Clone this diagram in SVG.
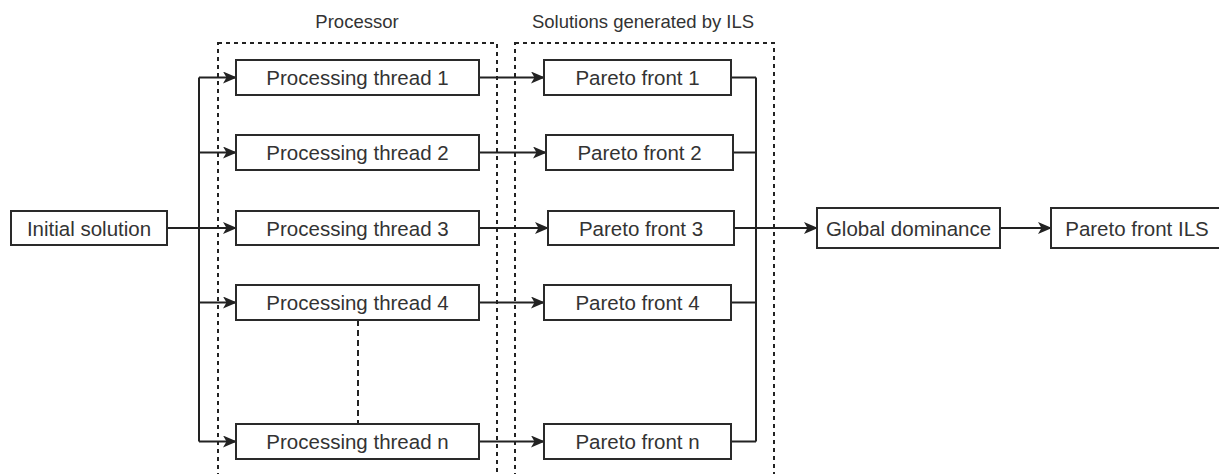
<svg xmlns="http://www.w3.org/2000/svg" width="1219" height="474" viewBox="0 0 1219 474">
<defs>
<style>
.box{fill:#fff;stroke:#2a2a2a;stroke-width:2}
.t{font-family:"Liberation Sans",Arial,sans-serif;font-size:20.5px;fill:#333;text-anchor:middle}
.lbl{font-family:"Liberation Sans",Arial,sans-serif;font-size:18.5px;fill:#333;text-anchor:middle}
.cont{fill:none;stroke:#222;stroke-width:2;stroke-dasharray:4 4}
.ln{fill:none;stroke:#222;stroke-width:2}
.arr{fill:none;stroke:#222;stroke-width:2;marker-end:url(#ah)}
.dash{fill:none;stroke:#222;stroke-width:2;stroke-dasharray:6 4}
</style>
<marker id="ah" viewBox="0 0 14 12" refX="13" refY="6" markerWidth="14" markerHeight="12" markerUnits="userSpaceOnUse" orient="auto">
<path d="M0,0 L14,6 L0,12 L3.5,6 Z" fill="#222"/>
</marker>
</defs>

<g id="containers">
<rect id="processor" class="cont" x="218" y="43" width="279" height="450"/>
<text class="lbl" x="357" y="28">Processor</text>
<rect id="solutions" class="cont" x="515" y="43" width="259" height="450"/>
<text class="lbl" x="643" y="28">Solutions generated by ILS</text>
</g>

<g id="connectors">
<path class="arr" d="M167,228 L236,228"/>
<path class="ln" d="M199,77.5 L199,441.5"/>
<path class="arr" d="M199,77.5 L236,77.5"/>
<path class="arr" d="M199,152.5 L236,152.5"/>
<path class="arr" d="M199,302.5 L236,302.5"/>
<path class="arr" d="M199,441.5 L236,441.5"/>
<path class="arr" d="M479,77.5 L544,77.5"/>
<path class="arr" d="M479,152.5 L546,152.5"/>
<path class="arr" d="M479,228 L548,228"/>
<path class="arr" d="M479,302.5 L544,302.5"/>
<path class="arr" d="M479,441.5 L544,441.5"/>
<path class="ln" d="M731,77.5 L756,77.5 M733,152.5 L756,152.5 M731,302.5 L756,302.5 M731,441.5 L756,441.5 M756,77.5 L756,441.5"/>
<path class="arr" d="M734,228 L817,228"/>
<path class="arr" d="M1000,228 L1051,228"/>
<path class="dash" d="M358,320 L358,424"/>
</g>

<g id="initial"><rect class="box" x="11" y="211" width="156" height="34"/><text class="t" x="89" y="235.5">Initial solution</text></g>

<g id="thread1"><rect class="box" x="236" y="60" width="243" height="35"/><text class="t" x="357.5" y="85">Processing thread 1</text></g>
<g id="thread2"><rect class="box" x="236" y="135" width="243" height="35"/><text class="t" x="357.5" y="160">Processing thread 2</text></g>
<g id="thread3"><rect class="box" x="236" y="211" width="243" height="34"/><text class="t" x="357.5" y="235.5">Processing thread 3</text></g>
<g id="thread4"><rect class="box" x="236" y="285" width="243" height="35"/><text class="t" x="357.5" y="310">Processing thread 4</text></g>
<g id="threadn"><rect class="box" x="236" y="424" width="243" height="35"/><text class="t" x="357.5" y="449">Processing thread n</text></g>

<g id="pf1"><rect class="box" x="544" y="60" width="187" height="35"/><text class="t" x="637.5" y="85">Pareto front 1</text></g>
<g id="pf2"><rect class="box" x="546" y="135" width="187" height="35"/><text class="t" x="639.5" y="160">Pareto front 2</text></g>
<g id="pf3"><rect class="box" x="548" y="211" width="186" height="34"/><text class="t" x="641" y="235.5">Pareto front 3</text></g>
<g id="pf4"><rect class="box" x="544" y="285" width="187" height="35"/><text class="t" x="637.5" y="310">Pareto front 4</text></g>
<g id="pfn"><rect class="box" x="544" y="424" width="187" height="35"/><text class="t" x="637.5" y="449">Pareto front n</text></g>

<g id="global"><rect class="box" x="817" y="208" width="183" height="40"/><text class="t" x="908.5" y="235.5">Global dominance</text></g>
<g id="pfils"><rect class="box" x="1051" y="208" width="175" height="40"/><text class="t" x="1137" y="235.5">Pareto front ILS</text></g>
</svg>
